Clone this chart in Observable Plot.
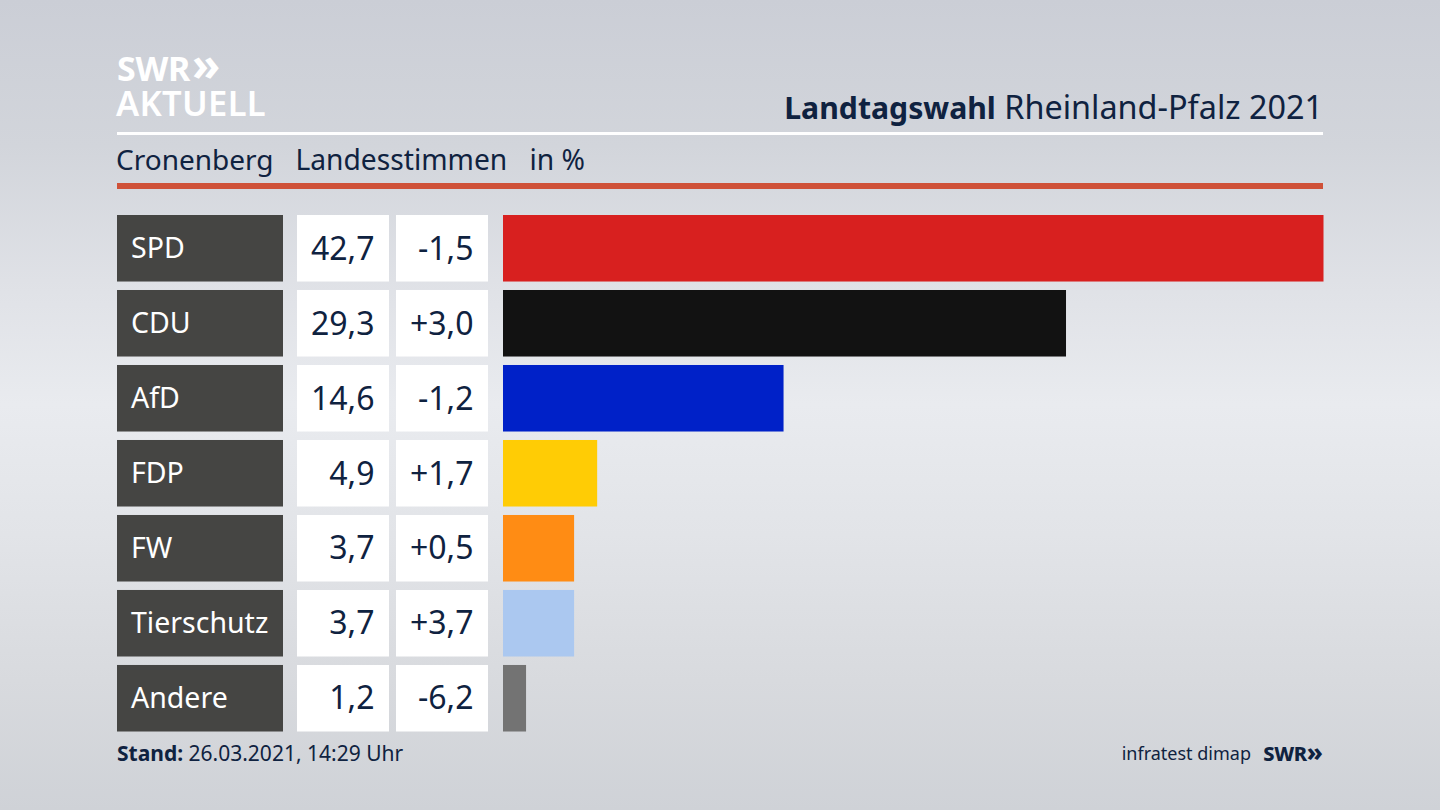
<!DOCTYPE html>
<html lang="de">
<head>
<meta charset="utf-8">
<script src="https://cdn.jsdelivr.net/npm/d3@7"></script>
<script src="https://cdn.jsdelivr.net/npm/@observablehq/plot@0.6"></script>
<style>
html,body{margin:0;padding:0;width:1440px;height:810px;overflow:hidden}
body{position:relative;font-family:"Noto Sans",sans-serif;color:#0f2240;
background:linear-gradient(180deg,#cbced6 0%,#d2d5db 18%,#e0e2e7 36%,#e9ebef 50%,#e2e4e8 66%,#d8dade 84%,#cfd2d7 100%)}
.t{position:absolute;white-space:nowrap;line-height:1}
.col{position:absolute;top:0}
.col svg{display:block;background:transparent}
.rule{position:absolute;left:117px;width:1206px}
</style>
</head>
<body>
<div class="t" style="left:117px;top:47px;height:32px;line-height:32px;font-size:34px;font-weight:700;color:#fff;letter-spacing:-.3px">SWR<span style="font-size:46px;line-height:32px;letter-spacing:0;margin-left:2px">»</span></div>
<div class="t" style="left:116px;top:89px;height:28px;line-height:28px;font-size:34.5px;font-weight:600;color:#fff;letter-spacing:.3px">AKTUELL</div>
<div class="t" style="right:117px;top:90px;font-size:32.4px"><b style="font-size:30.2px">Landtagswahl</b> Rheinland-Pfalz 2021</div>
<div class="rule" style="top:132px;height:3px;background:#fff"></div>
<div class="t" style="left:116px;top:145px;font-size:28px">Cronenberg</div>
<div class="t" style="left:295.5px;top:145px;font-size:28.2px">Landesstimmen</div>
<div class="t" style="left:529.5px;top:145px;font-size:28.2px">in %</div>
<div class="rule" style="top:183px;height:6px;background:#cf5138"></div>
<div class="t" style="left:117px;top:743px;font-size:21px"><b>Stand:</b> 26.03.2021, 14:29 Uhr</div>
<div class="t" style="right:189px;top:743.5px;font-size:18px">infratest dimap</div>
<div class="t" style="right:117px;top:741px;font-size:20px;font-weight:800;letter-spacing:-.3px">SWR<span style="font-size:25px;line-height:20px;letter-spacing:0">»</span></div>
<script>
const parties = ["SPD","CDU","AfD","FDP","FW","Tierschutz","Andere"];
const shares = [42.7,29.3,14.6,4.9,3.7,3.7,1.2];
const changes = [-1.5,3.0,-1.2,1.7,0.5,3.7,-6.2];
const partyColors = ["#d8201f","#121212","#0021c8","#ffcc05","#ff8c14","#abc8f0","#737373"];

const rows = parties.map((party,i)=>({party,share:shares[i],change:changes[i]}));
const de = d3.formatLocale({decimal:",",thousands:".",grouping:[3],currency:["","€"],minus:"-"});
const fmtShare = de.format(".1f"), fmtChange = de.format("+.1f");
const font = '"Noto Sans",sans-serif';

const yScale = {domain:parties,range:[215,731.5],paddingInner:0.113,paddingOuter:0,align:0,round:false,axis:null};

function mount(node,left){
  const d=document.createElement("div");
  d.className="col";d.style.left=left+"px";
  d.appendChild(node);document.body.appendChild(d);
}
function column(left,width,fill,textOpts){
  mount(Plot.plot({
    width,height:810,margin:0,
    style:{background:"transparent",fontFamily:font},
    x:{domain:[0,1],range:[0,width],axis:null},
    y:yScale,
    marks:[
      Plot.barX(rows,{y:"party",x:()=>1,fill}),
      Plot.text(rows,{y:"party",fontSize:textOpts.size,fill:textOpts.color,text:textOpts.text,
        frameAnchor:textOpts.anchor,textAnchor:textOpts.anchor==="left"?"start":"end",dx:textOpts.dx,dy:textOpts.dy})
    ]
  }),left);
}
column(117,166,"#454543",{size:28.5,color:"#fff",text:"party",anchor:"left",dx:13.5,dy:0.5});
column(297,92,"#fff",{size:32,color:"#0f2240",text:d=>fmtShare(d.share),anchor:"right",dx:-15,dy:0.5});
column(396,92,"#fff",{size:32,color:"#0f2240",text:d=>fmtChange(d.change),anchor:"right",dx:-15,dy:0.5});

mount(Plot.plot({
  width:821,height:810,margin:0,
  style:{background:"transparent"},
  x:{domain:[0,42.7],range:[0,820.5],axis:null},
  y:yScale,
  color:{domain:parties,range:partyColors},
  marks:[Plot.barX(rows,{y:"party",x:"share",fill:"party"})]
}),502.5);
</script>
</body>
</html>
